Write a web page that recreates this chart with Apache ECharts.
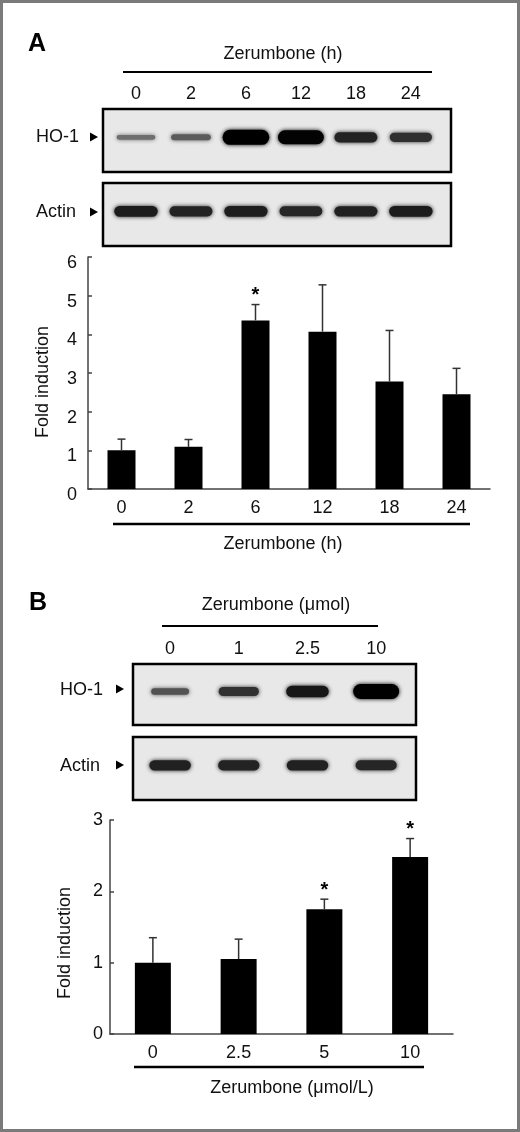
<!DOCTYPE html>
<html>
<head>
<meta charset="utf-8">
<script src="https://cdn.jsdelivr.net/npm/echarts@6/dist/echarts.min.js"></script>
<style>
  html, body { margin: 0; padding: 0; background: #fff; }
  #chart { width: 520px; height: 1132px; }
</style>
</head>
<body>
<div id="chart"></div>
<script>
// panel A: time course
const hoursA = ['0', '2', '6', '12', '18', '24'];
const hoBandA = [0.15, 0.25, 1.0, 0.92, 0.6, 0.52];
const actinBandA = [0.66, 0.6, 0.64, 0.58, 0.62, 0.66];
const foldA = [1.0, 1.09, 4.36, 4.07, 2.78, 2.45];
const sdA = [0.29, 0.19, 0.41, 1.21, 1.32, 0.67];
const sigA = [0, 0, 1, 0, 0, 0];

// panel B: dose response
const blotDosesB = ['0', '1', '2.5', '10'];
const hoBandB = [0.3, 0.5, 0.7, 1.0];
const actinBandB = [0.62, 0.6, 0.62, 0.58];
const dosesB = ['0', '2.5', '5', '10'];
const foldB = [1.0, 1.05, 1.75, 2.48];
const sdB = [0.35, 0.28, 0.14, 0.26];
const sigB = [0, 0, 1, 1];

const FONT = 'Liberation Sans';
const INK = '#111';
const AXIS = { lineStyle: { color: '#444', width: 1.5 } };

var chartDom = document.getElementById('chart');
var myChart = echarts.init(chartDom);

// one blot band: width/height/darkness follow the band intensity
function bandRenderer(wBase, wGain) {
  return function (params, api) {
    const k = api.value(1);
    const c = api.coord([api.value(0), 0.1]);
    const w = api.size([wBase + wGain * k, 0])[0];
    const h = 3 + 12 * k;
    const g = Math.round(140 * Math.pow(1 - k, 1.5));
    const col = 'rgb(' + g + ',' + g + ',' + g + ')';
    return {
      type: 'rect',
      shape: { x: c[0] - w / 2, y: c[1] - h / 2, width: w, height: h, r: h / 2 },
      style: { fill: col, shadowBlur: 4, shadowColor: col }
    };
  };
}

// upper error bar with cap, plus star when significant
function errorRenderer(params, api) {
  const i = api.value(0);
  const m = api.value(1);
  const sd = api.value(2);
  const base = api.coord([i, m]);
  const top = api.coord([i, m + sd]);
  const st = { stroke: '#333', lineWidth: 1.5 };
  const children = [
    { type: 'line', shape: { x1: top[0], y1: base[1], x2: top[0], y2: top[1] }, style: st },
    { type: 'line', shape: { x1: top[0] - 4, y1: top[1], x2: top[0] + 4, y2: top[1] }, style: st }
  ];
  if (api.value(3)) {
    children.push({
      type: 'text',
      style: {
        text: '*', x: top[0], y: top[1] + 1, align: 'center', verticalAlign: 'bottom',
        font: 'bold 20px ' + FONT, fill: '#000'
      }
    });
  }
  return { type: 'group', children: children };
}

function blotGrid(left, top, width, height) {
  return {
    left: left, top: top, width: width, height: height,
    show: true, backgroundColor: '#e8e8e8', borderColor: '#000', borderWidth: 2.5,
    containLabel: false, outerBoundsMode: 'none'
  };
}

function laneAxis(gridIndex, min, max, labels) {
  return {
    type: 'value', gridIndex: gridIndex, min: min, max: max, position: 'top',
    show: !!labels,
    axisLine: { show: false }, axisTick: { show: false }, splitLine: { show: false },
    axisLabel: labels ? {
      customValues: labels.map((_, i) => i),
      formatter: v => labels[Math.round(v)],
      fontSize: 18, color: INK, fontFamily: FONT, margin: 6
    } : { show: false }
  };
}

function hiddenY(gridIndex) {
  return { type: 'value', gridIndex: gridIndex, min: -1, max: 1, show: false, splitLine: { show: false } };
}

function barX(gridIndex, cats) {
  return {
    type: 'category', gridIndex: gridIndex, data: cats,
    axisLine: AXIS,
    axisTick: { alignWithLabel: true, length: 4, lineStyle: AXIS.lineStyle },
    axisLabel: { fontSize: 18, color: INK, fontFamily: FONT, margin: 10 }
  };
}

// drop: how far the tick labels sit below their ticks in the original
function barY(gridIndex, max, margin, drop) {
  return {
    type: 'value', gridIndex: gridIndex, min: 0, max: max, interval: 1,
    axisLine: { show: true, lineStyle: AXIS.lineStyle },
    axisTick: { show: true, inside: true, length: 4, lineStyle: AXIS.lineStyle },
    splitLine: { show: false },
    axisLabel: {
      margin: margin,
      formatter: v => '{t|' + v + '}',
      rich: { t: { fontSize: 18, color: INK, fontFamily: FONT, padding: [drop * 2, 0, 0, 0] } }
    }
  };
}

function text(str, x, y, opts) {
  return Object.assign({
    type: 'text', x: x, y: y,
    style: Object.assign({
      text: str, fontSize: 18, fontFamily: FONT, fill: INK, align: 'center', verticalAlign: 'middle'
    }, (opts && opts.style) || {})
  }, opts && opts.rotation ? { rotation: opts.rotation } : {});
}

function hline(x1, x2, y, w) {
  return { type: 'line', shape: { x1: x1, y1: y, x2: x2, y2: y }, style: { stroke: '#000', lineWidth: w } };
}

function arrow(x, y) {
  return { type: 'polygon', shape: { points: [[x, y - 4.5], [x + 8, y], [x, y + 4.5]] }, style: { fill: '#000' } };
}

const leftLabel = { style: { align: 'left' } };

option = {
  animation: false,
  textStyle: { fontFamily: FONT },
  grid: [
    blotGrid(103, 109, 348, 63),
    blotGrid(103, 183, 348, 63),
    { left: 88, top: 257, width: 402, height: 232, containLabel: false, outerBoundsMode: 'none' },
    blotGrid(133, 664, 283, 61),
    blotGrid(133, 737, 283, 63),
    { left: 110, top: 820, width: 343, height: 214, containLabel: false, outerBoundsMode: 'none' }
  ],
  xAxis: [
    laneAxis(0, -0.6, 5.73, hoursA),
    laneAxis(1, -0.6, 5.73, null),
    barX(2, hoursA),
    laneAxis(3, -0.54, 3.58, blotDosesB),
    laneAxis(4, -0.54, 3.58, null),
    barX(5, dosesB)
  ],
  yAxis: [
    hiddenY(0),
    hiddenY(1),
    barY(2, 6, 11, 6),
    hiddenY(3),
    hiddenY(4),
    barY(5, 3, 7, 0)
  ],
  series: [
    { type: 'custom', xAxisIndex: 0, yAxisIndex: 0, renderItem: bandRenderer(0.68, 0.17),
      data: hoBandA.map((k, i) => [i, k]) },
    { type: 'custom', xAxisIndex: 1, yAxisIndex: 1, renderItem: bandRenderer(0.68, 0.17),
      data: actinBandA.map((k, i) => [i, k]) },
    { type: 'bar', xAxisIndex: 2, yAxisIndex: 2, data: foldA, barWidth: 28,
      itemStyle: { color: '#000' } },
    { type: 'custom', xAxisIndex: 2, yAxisIndex: 2, renderItem: errorRenderer, z: 5,
      encode: { x: 0, y: 1 },
      data: foldA.map((m, i) => [i, m, sdA[i], sigA[i]]) },
    { type: 'custom', xAxisIndex: 3, yAxisIndex: 3, renderItem: bandRenderer(0.5, 0.17),
      data: hoBandB.map((k, i) => [i, k]) },
    { type: 'custom', xAxisIndex: 4, yAxisIndex: 4, renderItem: bandRenderer(0.5, 0.17),
      data: actinBandB.map((k, i) => [i, k]) },
    { type: 'bar', xAxisIndex: 5, yAxisIndex: 5, data: foldB, barWidth: 36,
      itemStyle: { color: '#000' } },
    { type: 'custom', xAxisIndex: 5, yAxisIndex: 5, renderItem: errorRenderer, z: 5,
      encode: { x: 0, y: 1 },
      data: foldB.map((m, i) => [i, m, sdB[i], sigB[i]]) }
  ],
  graphic: [
    { type: 'rect', shape: { x: 1.5, y: 1.5, width: 517, height: 1129 },
      style: { fill: null, stroke: '#7a7a7a', lineWidth: 3 } },
    // panel A
    text('A', 28, 44, { style: { align: 'left', fontSize: 25, fontWeight: 'bold', fill: '#000' } }),
    text('Zerumbone (h)', 283, 54),
    hline(123, 432, 72, 2),
    text('HO-1', 36, 137, leftLabel), arrow(90, 137),
    text('Actin', 36, 212, leftLabel), arrow(90, 212),
    text('Fold induction', 43, 382, { rotation: Math.PI / 2 }),
    hline(113, 470, 524, 2.5),
    text('Zerumbone (h)', 283, 544),
    // panel B
    text('B', 29, 603, { style: { align: 'left', fontSize: 25, fontWeight: 'bold', fill: '#000' } }),
    text('Zerumbone (\u03bcmol)', 276, 605),
    hline(162, 378, 626, 2),
    text('HO-1', 60, 690, leftLabel), arrow(116, 689),
    text('Actin', 60, 766, leftLabel), arrow(116, 765),
    text('Fold induction', 65, 943, { rotation: Math.PI / 2 }),
    hline(134, 424, 1067, 2.5),
    text('Zerumbone (\u03bcmol/L)', 292, 1088)
  ]
};

option && myChart.setOption(option);
</script>
</body>
</html>
